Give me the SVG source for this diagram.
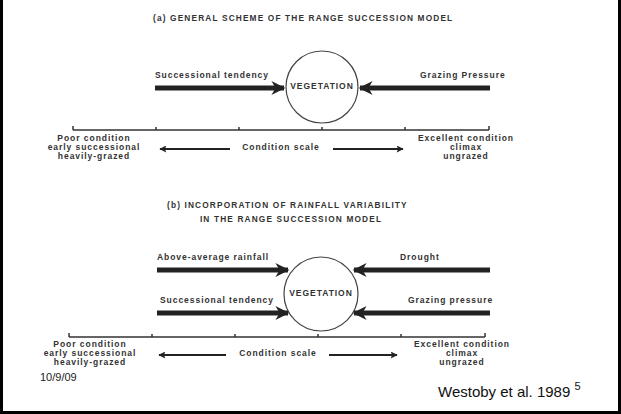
<svg xmlns="http://www.w3.org/2000/svg" width="621" height="414" viewBox="0 0 621 414">
<defs>
<style>
.t{font-family:"Liberation Sans",Arial,sans-serif;font-weight:bold;fill:#333;font-size:8.5px;letter-spacing:0.95px}
.h{font-family:"Liberation Sans",Arial,sans-serif;font-weight:bold;fill:#333;font-size:8.3px;letter-spacing:1.15px}
.big{stroke:#222;stroke-width:5;fill:none}
.ax{stroke:#333;stroke-width:1.5;fill:none}
.sm{stroke:#222;stroke-width:2;fill:none}
.c{fill:#fff;stroke:#444;stroke-width:1.2}
</style>
<marker id="ah" viewBox="0 0 10 10" refX="9" refY="5" markerWidth="3" markerHeight="2.8" orient="auto" markerUnits="strokeWidth">
<path d="M0,0 L10,5 L0,10 L3,5 Z" fill="#222"/>
</marker>
<marker id="as" viewBox="0 0 10 10" refX="9" refY="5" markerWidth="4.5" markerHeight="3.5" orient="auto" markerUnits="strokeWidth">
<path d="M0,0 L10,5 L0,10 L2,5 Z" fill="#222"/>
</marker>
</defs>
<rect width="621" height="414" fill="#fff"/>
<path d="M1.5,0 V412.5 H619.5 V0" fill="none" stroke="#000" stroke-width="3"/>

<text class="h" x="153" y="21">(a) GENERAL SCHEME OF THE RANGE SUCCESSION MODEL</text>

<g id="veg-a">
<circle class="c" cx="322" cy="87" r="36"/>
<text class="t" x="322" y="89" text-anchor="middle">VEGETATION</text>
</g>
<g id="succ-a"><text class="t" x="155" y="78">Successional tendency</text></g>
<g id="graz-a"><text class="t" x="420" y="78">Grazing Pressure</text></g>
<g id="scale-a">
<path class="ax" d="M73,130 H489 M73,126 V130 M156,127 V130 M239,127 V130 M322,127 V130 M405,127 V130 M489,126 V130"/>
<text class="t" x="94" y="141" text-anchor="middle">Poor condition</text>
<text class="t" x="94" y="150" text-anchor="middle">early successional</text>
<text class="t" x="94" y="159" text-anchor="middle">heavily-grazed</text>
<text class="t" x="281" y="150" text-anchor="middle">Condition scale</text>
<text class="t" x="466" y="141" text-anchor="middle">Excellent condition</text>
<text class="t" x="466" y="150" text-anchor="middle">climax</text>
<text class="t" x="466" y="159" text-anchor="middle">ungrazed</text>
</g>

<text class="h" x="167" y="208">(b)  INCORPORATION OF RAINFALL VARIABILITY</text>
<text class="h" x="291" y="222" text-anchor="middle">IN THE RANGE SUCCESSION MODEL</text>

<g id="veg-b">
<circle class="c" cx="321" cy="294" r="37"/>
<text class="t" x="321" y="296" text-anchor="middle">VEGETATION</text>
</g>
<g id="rain-b"><text class="t" x="157" y="260">Above-average rainfall</text></g>
<g id="drought-b"><text class="t" x="400" y="260">Drought</text></g>
<g id="succ-b"><text class="t" x="160" y="303">Successional tendency</text></g>
<g id="graz-b"><text class="t" x="408" y="303">Grazing pressure</text></g>
<g id="scale-b">
<path class="ax" d="M69,337 H485 M69,333 V337 M152,334 V337 M235,334 V337 M318,334 V337 M401,334 V337 M485,333 V337"/>
<text class="t" x="90" y="347" text-anchor="middle">Poor condition</text>
<text class="t" x="90" y="356" text-anchor="middle">early successional</text>
<text class="t" x="90" y="365" text-anchor="middle">heavily-grazed</text>
<text class="t" x="278" y="356" text-anchor="middle">Condition scale</text>
<text class="t" x="462" y="347" text-anchor="middle">Excellent condition</text>
<text class="t" x="462" y="356" text-anchor="middle">climax</text>
<text class="t" x="462" y="365" text-anchor="middle">ungrazed</text>
</g>

<g id="connectors">
<path class="big" d="M155,88 H284" marker-end="url(#ah)"/>
<path class="big" d="M490,88 H360" marker-end="url(#ah)"/>
<path class="sm" d="M230,149 H160" marker-end="url(#as)"/>
<path class="sm" d="M333,149 H403" marker-end="url(#as)"/>
<path class="big" d="M157,270 H288" marker-end="url(#ah)"/>
<path class="big" d="M490,270 H354" marker-end="url(#ah)"/>
<path class="big" d="M157,313 H288" marker-end="url(#ah)"/>
<path class="big" d="M490,313 H354" marker-end="url(#ah)"/>
<path class="sm" d="M226,355 H159" marker-end="url(#as)"/>
<path class="sm" d="M329,355 H397" marker-end="url(#as)"/>
</g>

<text x="40" y="381" font-family="'Liberation Sans',Arial,sans-serif" font-size="11" fill="#222">10/9/09</text>
<text x="438" y="397" font-family="'Liberation Sans',Arial,sans-serif" font-size="15" fill="#111">Westoby et al. 1989 <tspan dy="-7" font-size="11">5</tspan></text>
</svg>
